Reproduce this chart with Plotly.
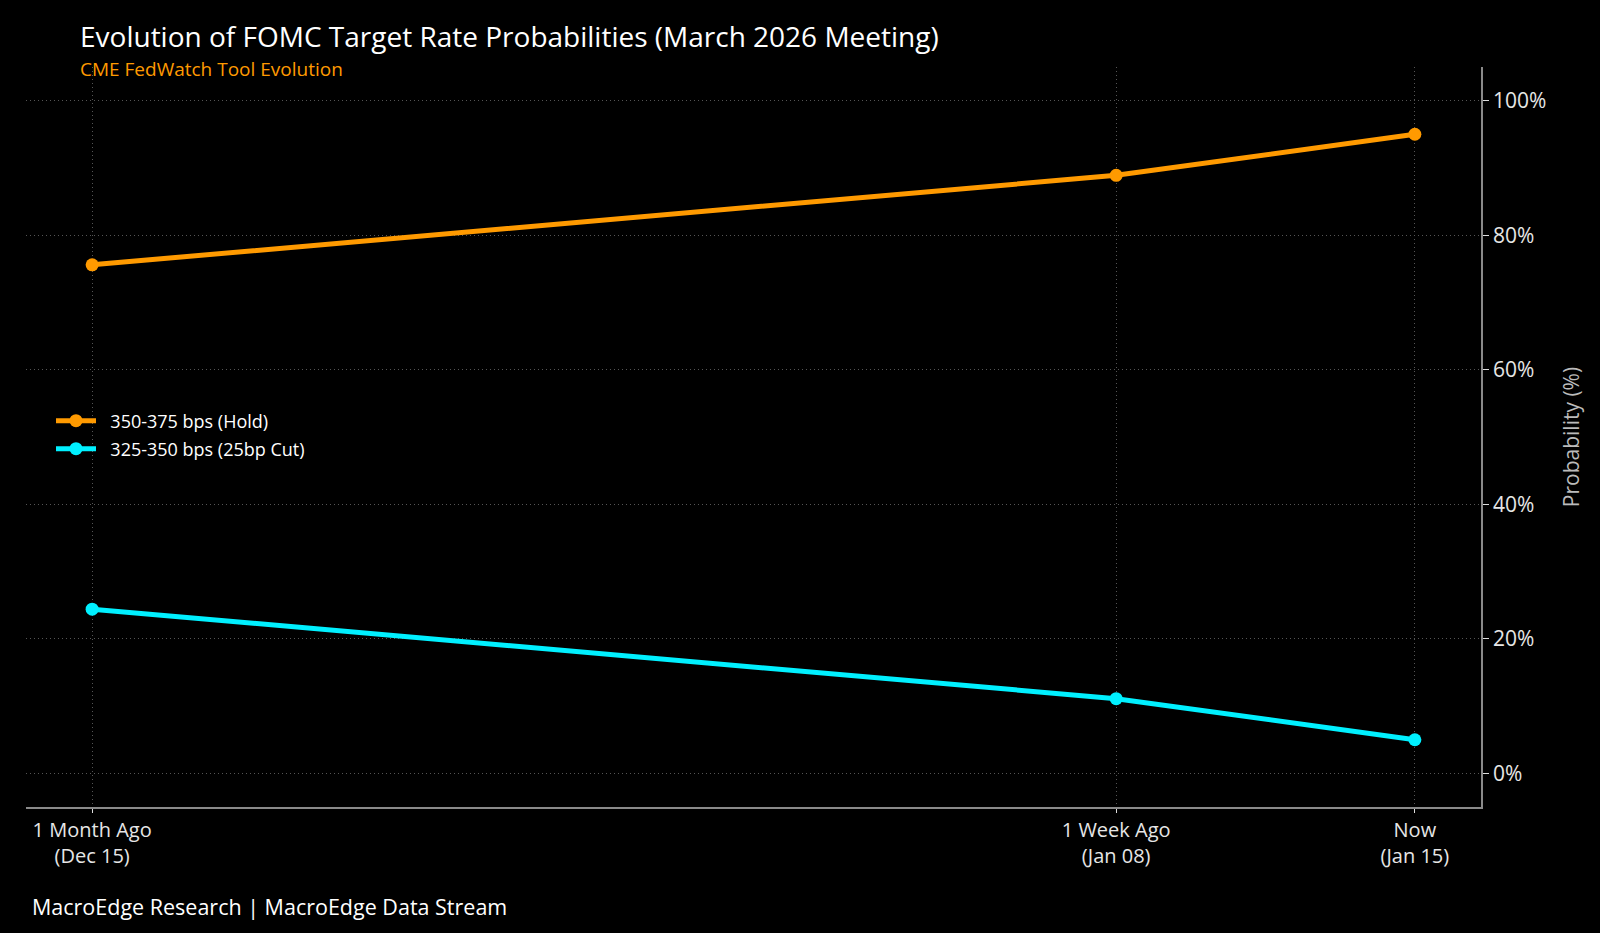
import plotly.graph_objects as go
import pandas as pd

dates = ["2025-12-15", "2026-01-08", "2026-01-15"]
tick_labels = ["1 Month Ago<br>(Dec 15)", "1 Week Ago<br>(Jan 08)", "Now<br>(Jan 15)"]
hold_probs = [75.6, 88.9, 95.0]
cut_probs = [24.4, 11.1, 5.0]
series_names = ["350-375 bps (Hold)", "325-350 bps (25bp Cut)"]
colors = ["#FF9A00", "#00F0FF"]
y_ticks = [0, 20, 40, 60, 80, 100]
y_tick_labels = [f"{v}%" for v in y_ticks]

FONT = "Open Sans"
W, H = 1600, 933
ML, MR, MT, MB = 26, 119, 67, 126
PH = H - MT - MB
PW = W - ML - MR


def py(pix):
    return (H - MB - pix) / PH


def px(pix):
    return (pix - ML) / PW


fig = go.Figure()
legends = ["legend", "legend2"]
for name, vals, col, lg in zip(series_names, [hold_probs, cut_probs], colors, legends):
    fig.add_trace(go.Scatter(
        x=dates, y=vals, name="\u00a0\u00a0" + name, mode="lines+markers",
        line=dict(color=col, width=5),
        marker=dict(color=col, size=13),
        legend=lg, showlegend=True,
    ))

d0 = pd.Timestamp(dates[0])
d1 = pd.Timestamp(dates[-1])
pad = (d1 - d0) * 0.05

legend_common = dict(
    x=px(51), xanchor="left", yanchor="middle",
    bgcolor="rgba(0,0,0,0)", font=dict(size=18, color="white", family=FONT),
    itemwidth=40, visible=True,
)

grid_dash = "1px,3px"

fig.update_layout(
    width=W, height=H,
    showlegend=True,
    paper_bgcolor="black", plot_bgcolor="black",
    font=dict(family=FONT, color="white", size=17),
    margin=dict(l=ML, r=MR, t=MT, b=MB),
    legend=dict(y=py(421), **legend_common),
    legend2=dict(y=py(449), **legend_common),
    xaxis=dict(
        type="date",
        range=[d0 - pad, d1 + pad],
        tickvals=dates, ticktext=tick_labels,
        showgrid=True, gridcolor="#555555", griddash=grid_dash, gridwidth=1,
        showline=True, linecolor="#8a8a8a", linewidth=1.5,
        ticks="outside", tickcolor="#dddddd", ticklen=4,
        tickfont=dict(size=20, color="#e6e6e6"),
        zeroline=False,
    ),
    yaxis=dict(
        side="right", range=[-5, 105],
        tickvals=y_ticks, ticktext=y_tick_labels,
        showgrid=True, gridcolor="#555555", griddash=grid_dash, gridwidth=1,
        showline=True, linecolor="#8a8a8a", linewidth=1.5,
        ticks="outside", tickcolor="#dddddd", ticklen=6,
        tickfont=dict(size=21, color="#e6e6e6"),
        title=dict(text="Probability (%)", font=dict(size=21, color="#bbbbbb"), standoff=19),
        zeroline=False,
    ),
    annotations=[
        dict(text="Evolution of FOMC Target Rate Probabilities (March 2026 Meeting)",
             x=px(78), y=py(36), xref="paper", yref="paper", xanchor="left", yanchor="middle",
             showarrow=False, font=dict(size=28, color="white", family=FONT)),
        dict(text="CME FedWatch Tool Evolution",
             x=px(78), y=py(69), xref="paper", yref="paper", xanchor="left", yanchor="middle",
             showarrow=False, font=dict(size=19, color="#FF9A00", family=FONT)),
        dict(text="MacroEdge Research | MacroEdge Data Stream",
             x=px(30), y=py(906), xref="paper", yref="paper", xanchor="left", yanchor="middle",
             showarrow=False, font=dict(size=21.5, color="white", family=FONT)),
    ],
)

fig.write_html("out.html", config={"displayModeBar": False},
               post_script="document.body.style.margin='0';document.body.style.background='black';")
